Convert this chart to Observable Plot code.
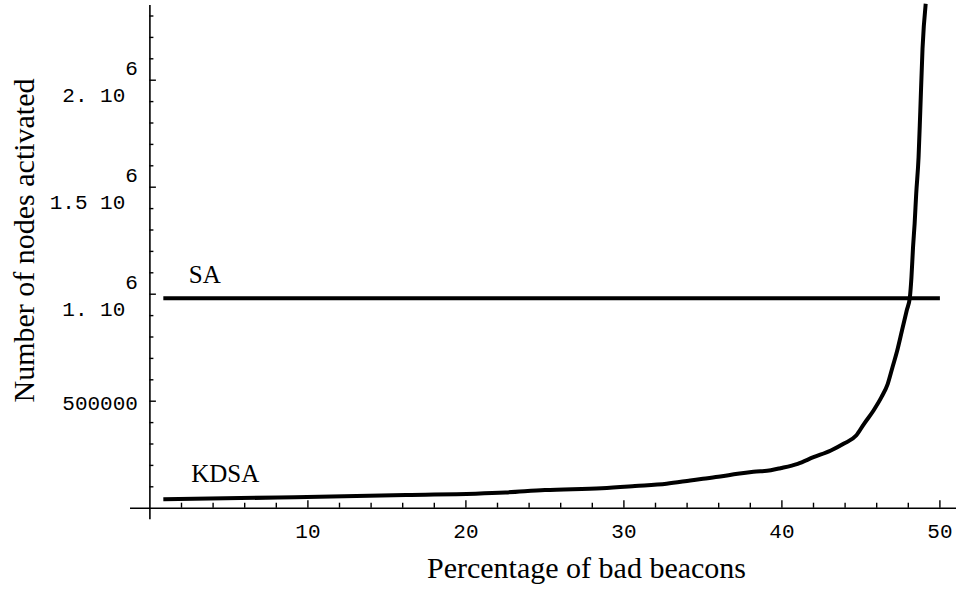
<!DOCTYPE html>
<html>
<head>
<meta charset="utf-8">
<script src="https://cdn.jsdelivr.net/npm/d3@7"></script>
<script src="https://cdn.jsdelivr.net/npm/@observablehq/plot@0.6"></script>
<style>
  html, body { margin: 0; padding: 0; background: #fff; }
</style>
</head>
<body>
<div id="chart"></div>
<script>
// ---- data ----
const percent = [0.85, 8.1, 16.2, 22.5, 25.0, 28.6, 30.7, 32.7, 34.2, 35.0, 36.1, 37.2, 38.2, 39.3, 39.9, 41.0, 42.0, 43.1, 43.9, 44.7, 45.2, 45.8, 46.3, 46.7, 47.0, 47.3, 47.6, 47.9, 48.1, 48.2, 48.3, 48.4, 48.5, 48.65, 48.76, 48.9, 49.1];
const kdsaNodes = [41600, 50000, 61200, 73400, 85000, 93500, 103700, 114500, 129400, 137400, 148100, 160800, 170100, 177500, 186900, 207500, 238300, 269600, 300900, 339700, 394400, 456600, 518700, 581300, 658900, 737000, 830400, 923900, 986000, 1079500, 1219700, 1329000, 1469200, 1640200, 1858500, 2146800, 2357000];
const saPercent = [0.85, 50];
const saNodes = [981000, 981000];

const seriesNames = ["SA", "KDSA"];
const seriesLabelX = [2.46, 2.61];
const seriesLabelY = [1053000, 121500];

const xTickValues = [10, 20, 30, 40, 50];
const xTickLabels = ["10", "20", "30", "40", "50"];
const xMinorStep = 2;
const yTickValues = [500000, 1000000, 1500000, 2000000];
const yTickMantissas = ["500000", "1.", "1.5", "2."];
const yTickExponents = ["", "6", "6", "6"];
const yMinorStep = 100000;

const xTitle = "Percentage of bad beacons";
const yTitle = "Number of nodes activated";

// ---- layout ----
const W = 956, H = 589;
const pxPerX = 15.8;            // pixels per percent
const pxPerY = 107 / 500000;    // pixels per node
const x0px = 149.4, y0px = 507.7;
const xDomain = [-x0px / pxPerX, (W - x0px) / pxPerX];
const yDomain = [-(H - y0px) / pxPerY, y0px / pxPerY];
const px2x = p => p / pxPerX;
const px2y = p => p / pxPerY;

const kdsa = percent.map((p, i) => ({p, n: kdsaNodes[i]}));
const sa = saPercent.map((p, i) => ({p, n: saNodes[i]}));
const seriesLabels = seriesNames.map((s, i) => ({s, x: seriesLabelX[i], y: seriesLabelY[i]}));

const xMinor = d3.range(xMinorStep, 50 + 1e-9, xMinorStep).filter(v => !xTickValues.includes(v));
const yMinor = d3.range(yMinorStep, 2300000 + 1, yMinorStep).filter(v => !yTickValues.includes(v));
const nbsp = "\u00a0";
const yLabels = yTickValues.map((v, i) => ({
  v,
  t: yTickExponents[i] ? (yTickExponents[i] + "\n" + yTickMantissas[i] + " 10" + nbsp) : yTickMantissas[i]
}));

const mono = "Liberation Mono, Courier New, monospace";
const serif = "Liberation Serif, Times New Roman, serif";

const chart = Plot.plot({
  width: W,
  height: H,
  marginTop: 0, marginRight: 0, marginBottom: 0, marginLeft: 0,
  x: {domain: xDomain, axis: null},
  y: {domain: yDomain, axis: null},
  style: {background: "#fff", color: "#000"},
  marks: [
    // axes lines
    Plot.ruleY([0], {x1: px2x(-19.4), x2: xDomain[1], stroke: "#000", strokeWidth: 1.6}),
    Plot.ruleX([0], {y1: px2y(-11.6), y2: px2y(502.7), stroke: "#000", strokeWidth: 1.6}),
    // x ticks
    Plot.ruleX(xTickValues, {x: d => d, y1: 0, y2: px2y(7.5), stroke: "#000", strokeWidth: 1.4}),
    Plot.ruleX(xMinor, {x: d => d, y1: 0, y2: px2y(5), stroke: "#000", strokeWidth: 1.4}),
    // y ticks
    Plot.ruleY(yTickValues, {y: d => d, x1: 0, x2: px2x(6.5), stroke: "#000", strokeWidth: 1.4}),
    Plot.ruleY(yMinor, {y: d => d, x1: 0, x2: px2x(4), stroke: "#000", strokeWidth: 1.4}),
    // tick labels
    Plot.text(xTickValues, {x: d => d, y: 0, dy: 23, text: (d, i) => xTickLabels[i], fontFamily: mono, fontSize: 21, fill: "#000", lineAnchor: "middle"}),
    Plot.text(yLabels, {x: 0, y: "v", dx: -12, text: "t", textAnchor: "end", lineAnchor: "middle", lineHeight: 1.26, fontFamily: mono, fontSize: 21, fill: "#000"}),
    // series
    Plot.line(sa, {x: "p", y: "n", stroke: "#000", strokeWidth: 4, strokeLinecap: "butt"}),
    Plot.line(kdsa, {x: "p", y: "n", stroke: "#000", strokeWidth: 4, curve: "monotone-x", strokeLinecap: "butt", strokeLinejoin: "round"}),
    Plot.text(seriesLabels, {x: "x", y: "y", text: "s", textAnchor: "start", lineAnchor: "bottom", fontFamily: serif, fontSize: 25, fill: "#000"}),
    // axis titles
    Plot.text([xTitle], {frameAnchor: "bottom", dx: 108, dy: -12, textAnchor: "middle", lineAnchor: "bottom", fontFamily: serif, fontSize: 30, fill: "#000"}),
    Plot.text([yTitle], {frameAnchor: "left", dx: 33, dy: -54.5, rotate: -90, textAnchor: "middle", lineAnchor: "bottom", fontFamily: serif, fontSize: 30, fill: "#000"})
  ]
});
document.getElementById("chart").appendChild(chart);
</script>
</body>
</html>
